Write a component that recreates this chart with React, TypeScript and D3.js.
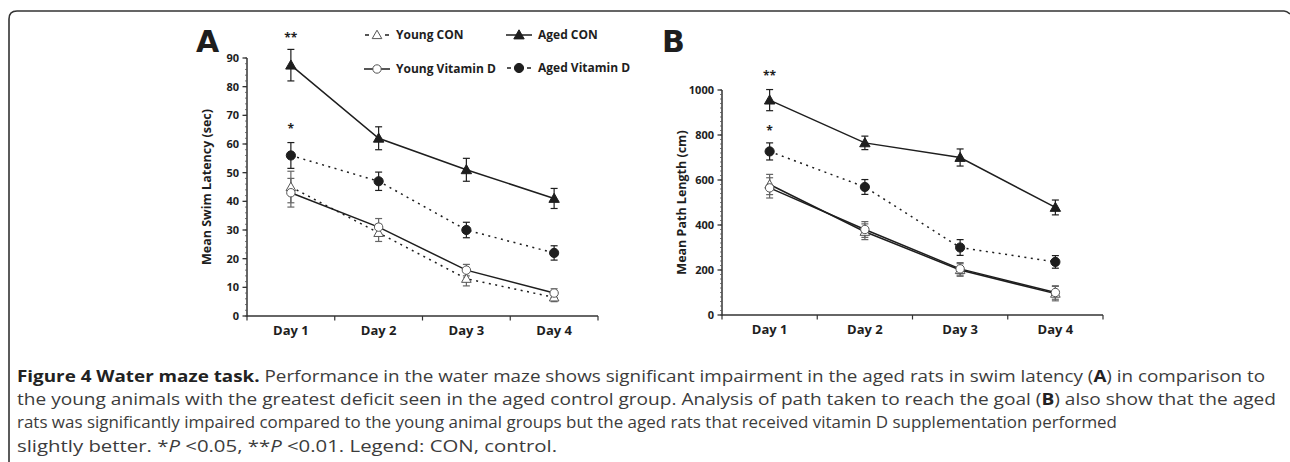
import React from 'react';
import * as d3 from 'd3';

const days = ['Day 1', 'Day 2', 'Day 3', 'Day 4'];

// Panel A: mean swim latency (sec)
const latYoungCon = [45, 29, 13, 6.5];
const latYoungConErr = [5.5, 3, 2.5, 1.5];
const latYoungVitD = [43, 31, 16, 8];
const latYoungVitDErr = [5, 3, 2, 1.5];
const latAgedCon = [87.5, 62, 51, 41];
const latAgedConErr = [5.5, 4, 4, 3.5];
const latAgedVitD = [56, 47, 30, 22];
const latAgedVitDErr = [4.5, 3.2, 2.7, 2.5];
const latTicks = [0, 10, 20, 30, 40, 50, 60, 70, 80, 90];
const latStars = [{ day: 'Day 1', value: 98, text: '**' }, { day: 'Day 1', value: 66, text: '*' }];

// Panel B: mean path length (cm)
const pathYoungCon = [580, 370, 200, 95];
const pathYoungConErr = [45, 35, 28, 32];
const pathYoungVitD = [565, 380, 205, 100];
const pathYoungVitDErr = [45, 35, 28, 30];
const pathAgedCon = [955, 765, 700, 478];
const pathAgedConErr = [47, 30, 38, 33];
const pathAgedVitD = [727, 569, 300, 236];
const pathAgedVitDErr = [38, 33, 35, 28];
const pathTicks = [0, 200, 400, 600, 800, 1000];
const pathStars = [{ day: 'Day 1', value: 1075, text: '**' }, { day: 'Day 1', value: 831, text: '*' }];

const captionLines = [
  { bold: 'Figure 4 Water maze task.', rest: ' Performance in the water maze shows significant impairment in the aged rats in swim latency (', b2: 'A', rest2: ') in comparison to', end: 1265 },
  { bold: '', rest: 'the young animals with the greatest deficit seen in the aged control group. Analysis of path taken to reach the goal (', b2: 'B', rest2: ') also show that the aged', end: 1276 },
  { bold: '', rest: 'rats was significantly impaired compared to the young animal groups but the aged rats that received vitamin D supplementation performed', b2: '', rest2: '', end: 1117 },
  { bold: '', rest: 'slightly better. *', b2: '', rest2: '', end: 557 },
];

const FONT = "'Open Sans', 'Noto Sans', sans-serif";
const INK = '#1e1e1e';

type Series = { name: string; values: number[]; err: number[]; marker: 'tri' | 'circle'; filled: boolean; dotted: boolean };

const Marker: React.FC<{ kind: 'tri' | 'circle'; filled: boolean; x: number; y: number }> = ({ kind, filled, x, y }) => {
  const fill = filled ? INK : '#fff';
  const stroke = filled ? INK : '#555';
  if (kind === 'circle') return <circle cx={x} cy={y} r={filled ? 4.6 : 4.2} fill={fill} stroke={stroke} strokeWidth={1} />;
  const s = filled ? 5.2 : 4.8;
  return <path d={`M${x},${y - s}L${x + s},${y + s * 0.75}L${x - s},${y + s * 0.75}Z`} fill={fill} stroke={stroke} strokeWidth={1} />;
};

const Panel: React.FC<{
  x0: number; x1: number; y0: number; y1: number; max: number; ticks: number[]; minor: number;
  series: Series[]; stars: { day: string; value: number; text: string }[]; ylabel: string; letter: string; letterX: number;
}> = ({ x0, x1, y0, y1, max, ticks, minor, series, stars, ylabel, letter, letterX }) => {
  const x = d3.scaleBand<string>().domain(days).range([x0, x1]);
  const y = d3.scaleLinear().domain([0, max]).range([y0, y1]);
  const cx = (d: string) => (x(d) || 0) + x.bandwidth() / 2;
  const line = d3.line<number>().x((_, i) => cx(days[i])).y(v => y(v));
  const minors = d3.range(0, max + 0.001, minor);
  const bounds = [x0, ...days.map(d => (x(d) || 0) + x.bandwidth())];
  return (
    <g>
      <text x={letterX} y={52} fontFamily="'DejaVu Sans', sans-serif" fontWeight={700} fontSize={30} fill={INK}>{letter}</text>
      {/* axes */}
      <line x1={x0} x2={x0} y1={y0 + 0.5} y2={y(max)} stroke="#333" strokeWidth={1.5} />
      <line x1={x0} x2={x1} y1={y0} y2={y0} stroke="#333" strokeWidth={1.5} />
      {minors.map(m => <line key={m} x1={x0 - 2} x2={x0} y1={y(m)} y2={y(m)} stroke="#555" strokeWidth={0.8} />)}
      {ticks.map(t => (
        <g key={t}>
          <line x1={x0 - 4.5} x2={x0} y1={y(t)} y2={y(t)} stroke="#333" strokeWidth={1.3} />
          <text x={x0 - 8} y={y(t)} dy="0.35em" textAnchor="end" fontFamily={FONT} fontWeight={700} fontSize={11} fill={INK}>{t}</text>
        </g>
      ))}
      {bounds.map((b, i) => <line key={i} x1={b} x2={b} y1={y0} y2={y0 + 4.5} stroke="#333" strokeWidth={1.2} />)}
      {days.map(d => (
        <text key={d} x={cx(d)} y={y0 + 19} textAnchor="middle" fontFamily={FONT} fontWeight={700} fontSize={13} fill={INK}>{d}</text>
      ))}
      <text transform={`translate(${x0 - 40},${(y0 + y(max)) / 2}) rotate(-90)`} textAnchor="middle" dy="0.35em"
        fontFamily={FONT} fontWeight={700} fontSize={12.5} fill={INK}>{ylabel}</text>
      {/* lines */}
      {series.map(s => (
        <path key={s.name} d={line(s.values) || ''} fill="none" stroke={INK} strokeWidth={1.5}
          strokeDasharray={s.dotted ? '2,4.5' : undefined} />
      ))}
      {/* error bars */}
      {series.map(s => s.values.map((v, i) => {
        const px = cx(days[i]);
        const c = s.filled ? INK : '#666';
        return (
          <g key={s.name + i} stroke={c} strokeWidth={1.2}>
            <line x1={px} x2={px} y1={y(v - s.err[i])} y2={y(v + s.err[i])} />
            <line x1={px - 3.5} x2={px + 3.5} y1={y(v - s.err[i])} y2={y(v - s.err[i])} />
            <line x1={px - 3.5} x2={px + 3.5} y1={y(v + s.err[i])} y2={y(v + s.err[i])} />
          </g>
        );
      }))}
      {series.map(s => s.values.map((v, i) => (
        <Marker key={s.name + 'm' + i} kind={s.marker} filled={s.filled} x={cx(days[i])} y={y(v)} />
      )))}
      {stars.map((st, i) => (
        <text key={i} x={cx(st.day)} y={y(st.value)} dy="0.55em" textAnchor="middle" fontFamily={FONT} fontWeight={700} fontSize={12} fill={INK}>{st.text}</text>
      ))}
    </g>
  );
};

const LegendItem: React.FC<{ x: number; y: number; label: string; kind: 'tri' | 'circle'; filled: boolean; dotted: boolean }> = ({ x, y, label, kind, filled, dotted }) => (
  <g>
    {dotted ? (
      <g stroke={INK} strokeWidth={1.5}>
        <line x1={x - 12} x2={x - 8} y1={y} y2={y} />
        <line x1={x + 8} x2={x + 12} y1={y} y2={y} />
      </g>
    ) : (
      <line x1={x - 13} x2={x + 13} y1={y} y2={y} stroke={INK} strokeWidth={1.5} />
    )}
    <Marker kind={kind} filled={filled} x={x} y={y} />
    <text x={x + 19} y={y} dy="0.35em" fontFamily={FONT} fontWeight={700} fontSize={12} fill={INK}>{label}</text>
  </g>
);

export default function App() {
  const latSeries: Series[] = [
    { name: 'Young CON', values: latYoungCon, err: latYoungConErr, marker: 'tri', filled: false, dotted: true },
    { name: 'Young Vitamin D', values: latYoungVitD, err: latYoungVitDErr, marker: 'circle', filled: false, dotted: false },
    { name: 'Aged Vitamin D', values: latAgedVitD, err: latAgedVitDErr, marker: 'circle', filled: true, dotted: true },
    { name: 'Aged CON', values: latAgedCon, err: latAgedConErr, marker: 'tri', filled: true, dotted: false },
  ];
  const pathSeries: Series[] = [
    { name: 'Young CON', values: pathYoungCon, err: pathYoungConErr, marker: 'tri', filled: false, dotted: false },
    { name: 'Young Vitamin D', values: pathYoungVitD, err: pathYoungVitDErr, marker: 'circle', filled: false, dotted: false },
    { name: 'Aged Vitamin D', values: pathAgedVitD, err: pathAgedVitDErr, marker: 'circle', filled: true, dotted: true },
    { name: 'Aged CON', values: pathAgedCon, err: pathAgedConErr, marker: 'tri', filled: true, dotted: false },
  ];
  const capY = [382, 405, 428, 452];
  return (
    <svg width={1290} height={462} style={{ position: 'absolute', left: 0, top: 0, background: '#fff' }}>
      <path d="M9,470V19Q9,11 17,11H1284Q1287,11 1290,14" fill="none" stroke="#333" strokeWidth={1.6} />
      <Panel x0={247} x1={598} y0={316} y1={58} max={90} ticks={latTicks} minor={2} series={latSeries}
        stars={latStars} ylabel="Mean Swim Latency (sec)" letter="A" letterX={196} />
      <Panel x0={722} x1={1103} y0={315} y1={90} max={1000} ticks={pathTicks} minor={20} series={pathSeries}
        stars={pathStars} ylabel="Mean Path Length (cm)" letter="B" letterX={662} />
      <LegendItem x={377} y={35} label="Young CON" kind="tri" filled={false} dotted />
      <LegendItem x={377} y={69} label="Young Vitamin D" kind="circle" filled={false} dotted={false} />
      <LegendItem x={519} y={35} label="Aged CON" kind="tri" filled dotted={false} />
      <LegendItem x={519} y={68} label="Aged Vitamin D" kind="circle" filled dotted />
      {captionLines.map((l, i) => (
        <text key={i} x={17} y={capY[i]} fontFamily={FONT} fontSize={16.5} fill="#3c3c3c"
          textLength={l.end - 17} lengthAdjust="spacingAndGlyphs">
          {l.bold && <tspan fontWeight={700} fill="#222">{l.bold}</tspan>}
          {i === 3 ? (
            <>
              <tspan>slightly better. *</tspan><tspan fontStyle="italic">P</tspan><tspan> &lt;0.05, **</tspan>
              <tspan fontStyle="italic">P</tspan><tspan> &lt;0.01. Legend: CON, control.</tspan>
            </>
          ) : (
            <>
              <tspan>{l.rest}</tspan>
              {l.b2 && <tspan fontWeight={700} fill="#222">{l.b2}</tspan>}
              {l.rest2 && <tspan>{l.rest2}</tspan>}
            </>
          )}
        </text>
      ))}
    </svg>
  );
}
